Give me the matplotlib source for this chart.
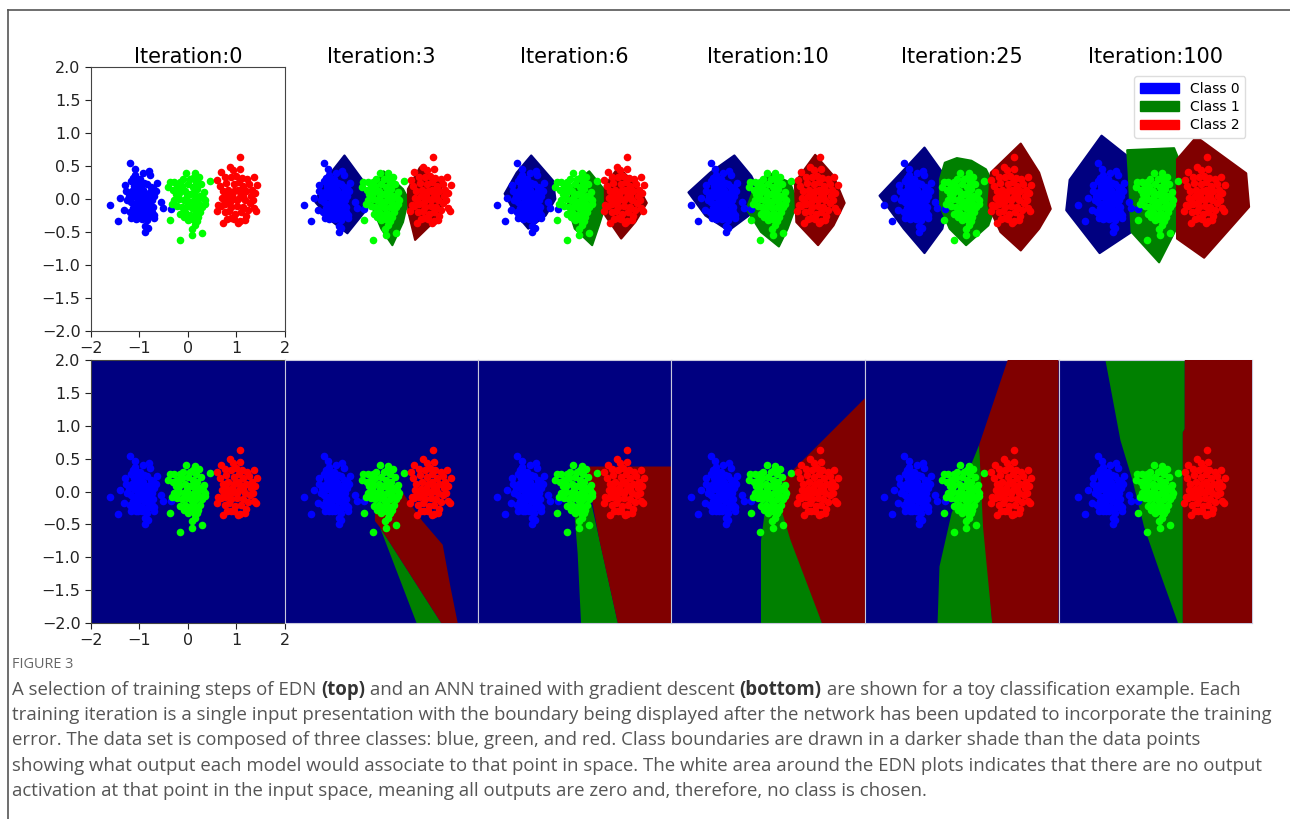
import matplotlib
matplotlib.use("Agg")
import matplotlib.pyplot as plt
from matplotlib.patches import Patch, Polygon
from matplotlib.lines import Line2D

# ---------------------------------------------------------------- data
iterations = [0, 3, 6, 10, 25, 100]
class_labels = ["Class 0", "Class 1", "Class 2"]

blue_x = [-1.19, -1.10, -1.09, -0.81, -0.78, -1.29, -1.18, -1.05, -0.64, -0.71, -0.98, -0.84,
          -1.60, -1.40, -1.31, -1.45, -1.17, -0.55, -0.51, -0.69, -0.69, -0.35, -0.88, -0.83,
          -0.88, -1.02, -1.15, -1.08, -1.00, -0.92, -0.86, -0.78, -1.22, -1.12, -1.04, -0.96,
          -0.88, -0.80, -0.74, -1.18, -1.10, -1.02, -0.94, -0.86, -0.78, -1.14, -1.06, -0.98,
          -0.90, -0.82, -1.10, -1.02, -0.94, -0.86, -0.95, -1.08, -0.76, -0.90, -1.02, -1.12,
          -1.25, -0.70, -0.72, -1.20, -0.98, -0.84, -0.96, -1.06, -0.89, -1.15, -0.80, -0.66,
          -1.28, -0.93, -1.14, -0.73]
blue_y = [0.54, 0.46, 0.37, 0.43, 0.36, 0.21, 0.27, 0.29, 0.24, 0.16, 0.19, 0.23,
          -0.09, 0.02, -0.17, -0.34, -0.29, -0.05, -0.14, -0.24, -0.29, -0.15, -0.41, -0.44,
          -0.50, -0.29, 0.12, 0.15, 0.10, 0.14, 0.08, 0.10, 0.05, 0.04, 0.02, 0.05,
          0.01, 0.03, -0.02, -0.05, -0.08, -0.04, -0.07, -0.05, -0.09, -0.14, -0.16, -0.12,
          -0.15, -0.18, -0.22, -0.20, -0.24, -0.26, -0.30, -0.30, 0.18, 0.25, 0.22, 0.20,
          -0.02, 0.05, -0.12, -0.20, 0.30, -0.32, -0.02, 0.08, -0.09, -0.25, -0.24, 0.12,
          0.12, 0.40, 0.32, -0.20]

green_x = [-0.03, 0.14, 0.24, 0.11, -0.37, -0.28, -0.17, -0.40, 0.28, 0.46, 0.35, -0.36,
           -0.17, 0.08, 0.09, 0.30, 0.04, 0.16, 0.19, -0.22, -0.12, 0.00, 0.10, 0.20,
           -0.25, -0.15, -0.05, 0.05, 0.15, 0.25, 0.32, -0.28, -0.18, -0.08, 0.02, 0.12,
           0.22, 0.30, -0.22, -0.12, -0.02, 0.08, 0.18, 0.26, -0.15, -0.05, 0.05, 0.14,
           0.22, 0.00, 0.10, -0.10, 0.05, 0.18, -0.30, 0.34, -0.32, 0.36, 0.12, -0.02,
           0.20, -0.20, 0.06, -0.08, 0.14]
green_y = [0.40, 0.39, 0.34, 0.32, 0.26, 0.26, 0.26, 0.18, 0.22, 0.28, -0.07, -0.32,
           -0.62, -0.45, -0.55, -0.51, -0.30, -0.34, -0.33, 0.18, 0.20, 0.22, 0.18, 0.15,
           0.08, 0.10, 0.12, 0.08, 0.06, 0.05, 0.02, -0.02, 0.00, -0.02, -0.04, -0.02,
           -0.06, -0.12, -0.10, -0.12, -0.10, -0.14, -0.12, -0.20, -0.22, -0.20, -0.24, -0.22,
           -0.28, -0.32, -0.30, 0.30, 0.30, 0.26, 0.14, 0.10, -0.08, -0.02, 0.10, 0.04,
           -0.02, 0.04, -0.06, -0.28, -0.40]

red_x = [1.07, 0.87, 1.09, 0.68, 0.90, 0.61, 1.23, 1.36, 1.44, 1.27, 1.39, 1.37,
         1.42, 0.73, 1.04, 1.09, 0.89, 0.63, 0.80, 0.95, 1.05, 1.15, 0.72, 0.84,
         0.96, 1.08, 1.20, 1.30, 0.70, 0.82, 0.94, 1.06, 1.18, 1.28, 0.68, 0.78,
         0.90, 1.02, 1.14, 1.24, 0.76, 0.86, 0.98, 1.10, 1.20, 0.82, 0.96, 1.00,
         1.12, 0.78, 0.66, 1.34, 0.92, 1.02, 0.88, 1.14, 0.74, 1.18, 0.94, 1.32,
         0.60, 1.04]
red_y = [0.63, 0.49, 0.45, 0.41, 0.33, 0.29, 0.30, 0.33, 0.21, 0.23, 0.09, -0.14,
         -0.18, -0.36, -0.36, -0.34, -0.29, -0.09, 0.25, 0.22, 0.26, 0.20, 0.12, 0.14,
         0.12, 0.10, 0.12, 0.05, 0.02, 0.04, 0.00, 0.02, -0.02, -0.06, -0.10, -0.08,
         -0.12, -0.10, -0.12, -0.16, -0.20, -0.18, -0.22, -0.20, -0.26, -0.30, -0.30, 0.35,
         0.32, 0.34, 0.20, -0.02, 0.06, -0.02, -0.04, 0.04, -0.02, -0.32, 0.44, 0.14,
         -0.18, 0.14]

# EDN class regions (outline vertices in input space) per iteration
edn_class0 = {
    3: [(-0.76, 0.66), (-0.40, 0.30), (-0.28, 0.05), (-0.35, -0.20), (-0.70, -0.52),
        (-1.00, -0.35), (-1.36, -0.05), (-1.20, 0.25)],
    6: [(-0.90, 0.66), (-0.45, 0.28), (-0.40, 0.00), (-0.60, -0.25), (-0.96, -0.45),
        (-1.25, -0.20), (-1.45, 0.08), (-1.20, 0.40)],
    10: [(-0.70, 0.66), (-0.35, 0.35), (-0.15, 0.05), (-0.40, -0.25), (-0.82, -0.48),
         (-1.30, -0.25), (-1.65, 0.10), (-1.20, 0.40)],
    25: [(-0.77, 0.78), (-0.35, 0.35), (-0.30, -0.10), (-0.40, -0.45), (-0.77, -0.82),
         (-1.20, -0.45), (-1.70, 0.05), (-1.25, 0.40)],
    100: [(-1.11, 0.96), (-0.49, 0.60), (-0.49, -0.50), (-1.15, -0.82), (-1.84, -0.17),
          (-1.77, 0.29)],
}
edn_class1 = {
    3: [(0.05, 0.42), (0.45, 0.15), (0.56, 0.00), (0.45, -0.35), (0.23, -0.70),
        (0.00, -0.45), (-0.20, -0.10), (-0.15, 0.20)],
    6: [(0.30, 0.42), (0.60, 0.15), (0.63, -0.10), (0.50, -0.40), (0.36, -0.70),
        (0.00, -0.45), (-0.15, -0.10), (0.00, 0.25)],
    10: [(0.00, 0.40), (0.45, 0.25), (0.60, -0.05), (0.40, -0.45), (0.22, -0.72),
         (-0.15, -0.50), (-0.45, -0.15), (-0.30, 0.15)],
    25: [(-0.35, 0.55), (-0.10, 0.62), (0.20, 0.58), (0.50, 0.45), (0.77, 0.05),
         (0.55, -0.40), (0.09, -0.70), (-0.25, -0.45), (-0.45, -0.10), (-0.45, 0.30)],
    100: [(-0.58, 0.74), (0.39, 0.77), (0.54, 0.50), (0.54, -0.30), (0.08, -0.96),
          (-0.49, -0.50), (-0.55, 0.40)],
}
edn_class2 = {
    3: [(0.80, 0.48), (1.20, 0.25), (1.32, 0.00), (1.15, -0.30), (0.70, -0.62),
        (0.56, -0.20), (0.55, 0.15)],
    6: [(0.90, 0.48), (1.30, 0.20), (1.49, -0.06), (1.25, -0.35), (0.96, -0.60),
        (0.63, -0.25), (0.62, 0.20)],
    10: [(0.97, 0.67), (1.35, 0.35), (1.58, -0.06), (1.35, -0.40), (1.03, -0.70),
         (0.58, -0.35), (0.55, 0.25)],
    25: [(1.22, 0.84), (1.60, 0.40), (1.84, -0.15), (1.60, -0.45), (1.22, -0.78),
         (0.80, -0.50), (0.55, -0.10), (0.60, 0.40)],
    100: [(0.85, 0.94), (1.88, 0.39), (1.94, -0.12), (1.01, -0.89), (0.45, -0.60),
          (0.45, 0.60)],
}

# ANN decision regions (class 0 fills the rest of the square)
ann_class1 = {
    3: [(-0.03, -0.54), (1.24, -2.0), (0.73, -2.0)],
    6: [(0.00, -0.40), (0.35, -0.20), (0.89, -2.0), (0.13, -2.0), (0.06, -0.94)],
    10: [(-0.07, -0.30), (0.30, 0.10), (1.11, -2.0), (-0.15, -2.0), (-0.15, -0.75)],
    25: [(0.36, 0.71), (0.63, -2.0), (-0.50, -2.0), (-0.46, -1.14), (-0.21, -0.33)],
    100: [(-1.03, 2.0), (0.61, 2.0), (0.61, 0.95), (0.57, 0.90), (0.57, -2.0), (0.47, -2.0),
          (0.10, -1.24), (-0.23, -0.54), (-0.47, 0.17), (-0.72, 0.78)],
}
ann_class2 = {
    3: [(-0.13, -0.28), (0.35, 0.08), (0.85, -0.45), (1.27, -0.81), (1.43, -1.45),
        (1.58, -2.0), (1.24, -2.0), (-0.03, -0.54), (-0.13, -0.45)],
    6: [(0.27, 0.38), (2.0, 0.38), (2.0, -2.0), (0.89, -2.0), (0.51, -0.74), (0.27, 0.20)],
    10: [(0.30, 0.17), (2.0, 1.42), (2.0, -2.0), (1.11, -2.0), (0.46, -0.74), (0.28, -0.30)],
    25: [(0.95, 2.0), (2.0, 2.0), (2.0, -2.0), (0.63, -2.0), (0.44, -0.54), (0.36, 0.71)],
    100: [(0.61, 2.0), (2.0, 2.0), (2.0, -2.0), (0.57, -2.0), (0.57, 0.90), (0.61, 0.95)],
}

caption_head = "FIGURE 3"
caption_lines = [
    [("A selection of training steps of EDN ", False), ("(top)", True),
     (" and an ANN trained with gradient descent ", False), ("(bottom)", True),
     (" are shown for a toy classification example. Each", False)],
    [("training iteration is a single input presentation with the boundary being displayed "
      "after the network has been updated to incorporate the training", False)],
    [("error. The data set is composed of three classes: blue, green, and red. Class "
      "boundaries are drawn in a darker shade than the data points", False)],
    [("showing what output each model would associate to that point in space. The white "
      "area around the EDN plots indicates that there are no output", False)],
    [("activation at that point in the input space, meaning all outputs are zero and, "
      "therefore, no class is chosen.", False)],
]

# ---------------------------------------------------------------- style
W, H = 1290, 819
point_colors = ["#0000ff", "#00ff00", "#ff0000"]
region_colors = ["#000080", "#008000", "#800000"]
legend_colors = ["#0000ff", "#008000", "#ff0000"]
points = [(blue_x, blue_y), (green_x, green_y), (red_x, red_y)]

fig = plt.figure(figsize=(W / 100, H / 100), dpi=100)
fig.patch.set_facecolor("white")


def px_axes(x0, y0, x1, y1):
    return fig.add_axes([x0 / W, 1 - y1 / H, (x1 - x0) / W, (y1 - y0) / H])


def draw_points(ax):
    for (xs, ys), c in zip(points, point_colors):
        ax.scatter(xs, ys, s=30, color=c, linewidths=0, zorder=5)


def style_ticks(ax):
    ax.set_xticks([-2, -1, 0, 1, 2])
    ax.set_yticks([-2.0, -1.5, -1.0, -0.5, 0.0, 0.5, 1.0, 1.5, 2.0])
    ax.set_yticklabels([f"{v:.1f}".replace("-", "\u2212") for v in ax.get_yticks()])
    ax.tick_params(labelsize=11.5, length=4, colors="#222222")


panel_w = 193.5
for k, it in enumerate(iterations):
    x0 = 91 + k * panel_w
    # top row: EDN
    ax = px_axes(x0, 67, x0 + panel_w, 331)
    ax.set_xlim(-2, 2)
    ax.set_ylim(-2, 2)
    ax.set_title(f"Iteration:{it}", fontsize=15, pad=3)
    if it in edn_class0:
        for regions, c in zip((edn_class0, edn_class1, edn_class2), region_colors):
            ax.add_patch(Polygon(regions[it], closed=True, facecolor=c, edgecolor=c,
                                 linewidth=1.5, joinstyle="round", zorder=2))
    draw_points(ax)
    if k == 0:
        style_ticks(ax)
        for s in ax.spines.values():
            s.set_color("#444444")
    else:
        ax.axis("off")
    if k == len(iterations) - 1:
        handles = [Patch(facecolor=c, edgecolor=c) for c in legend_colors]
        ax.legend(handles, class_labels, loc="upper right", fontsize=10,
                  bbox_to_anchor=(0.98, 0.975), borderaxespad=0.2, handlelength=2.8,
                  labelspacing=0.3, framealpha=1, edgecolor="#dddddd")

    # bottom row: ANN
    bx = px_axes(x0, 360, x0 + panel_w, 623)
    bx.set_xlim(-2, 2)
    bx.set_ylim(-2, 2)
    bx.set_facecolor(region_colors[0])
    if it in ann_class1:
        bx.add_patch(Polygon(ann_class1[it], closed=True, facecolor=region_colors[1],
                             edgecolor="none", zorder=2))
        bx.add_patch(Polygon(ann_class2[it], closed=True, facecolor=region_colors[2],
                             edgecolor="none", zorder=3))
    draw_points(bx)
    if k == 0:
        style_ticks(bx)
        for s in bx.spines.values():
            s.set_color("#444444")
    else:
        bx.set_xticks([])
        bx.set_yticks([])
        for s in bx.spines.values():
            s.set_color("#c8c8dc")
            s.set_linewidth(0.8)

# page frame
fig.add_artist(Line2D([8 / W, 8 / W], [0, 1 - 10 / H], color="#555555", lw=1.2))
fig.add_artist(Line2D([8 / W, 1], [1 - 10 / H, 1 - 10 / H], color="#555555", lw=1.2))

# ---------------------------------------------------------------- caption
cap_font = ["Open Sans", "DejaVu Sans"]
cap_color = "#555555"
renderer = fig.canvas.get_renderer()


def text_width(s, bold, size):
    kw = dict(fontsize=size, family=cap_font, fontweight="bold" if bold else "normal")
    t1 = fig.text(0, 0, s + "|", **kw)
    t2 = fig.text(0, 0, "|", **kw)
    w = t1.get_window_extent(renderer).width - t2.get_window_extent(renderer).width
    t1.remove()
    t2.remove()
    return w


# font size chosen so the longest caption line spans the text block
ref_line = caption_lines[1][0][0]
cap_size = 12 * (1253 / text_width(ref_line, False, 12))

fig.text(12 / W, 1 - 665 / H, caption_head, fontsize=cap_size * 0.78, family=cap_font,
         color="#666666", va="center", ha="left")
for i, segs in enumerate(caption_lines):
    y = 690 + i * 25.2
    x = 12
    for s, bold in segs:
        fig.text(x / W, 1 - y / H, s, fontsize=cap_size, family=cap_font,
                 fontweight="bold" if bold else "normal",
                 color="#333333" if bold else cap_color, va="center", ha="left")
        x += text_width(s, bold, cap_size)

fig.savefig("out.png", dpi=100)
